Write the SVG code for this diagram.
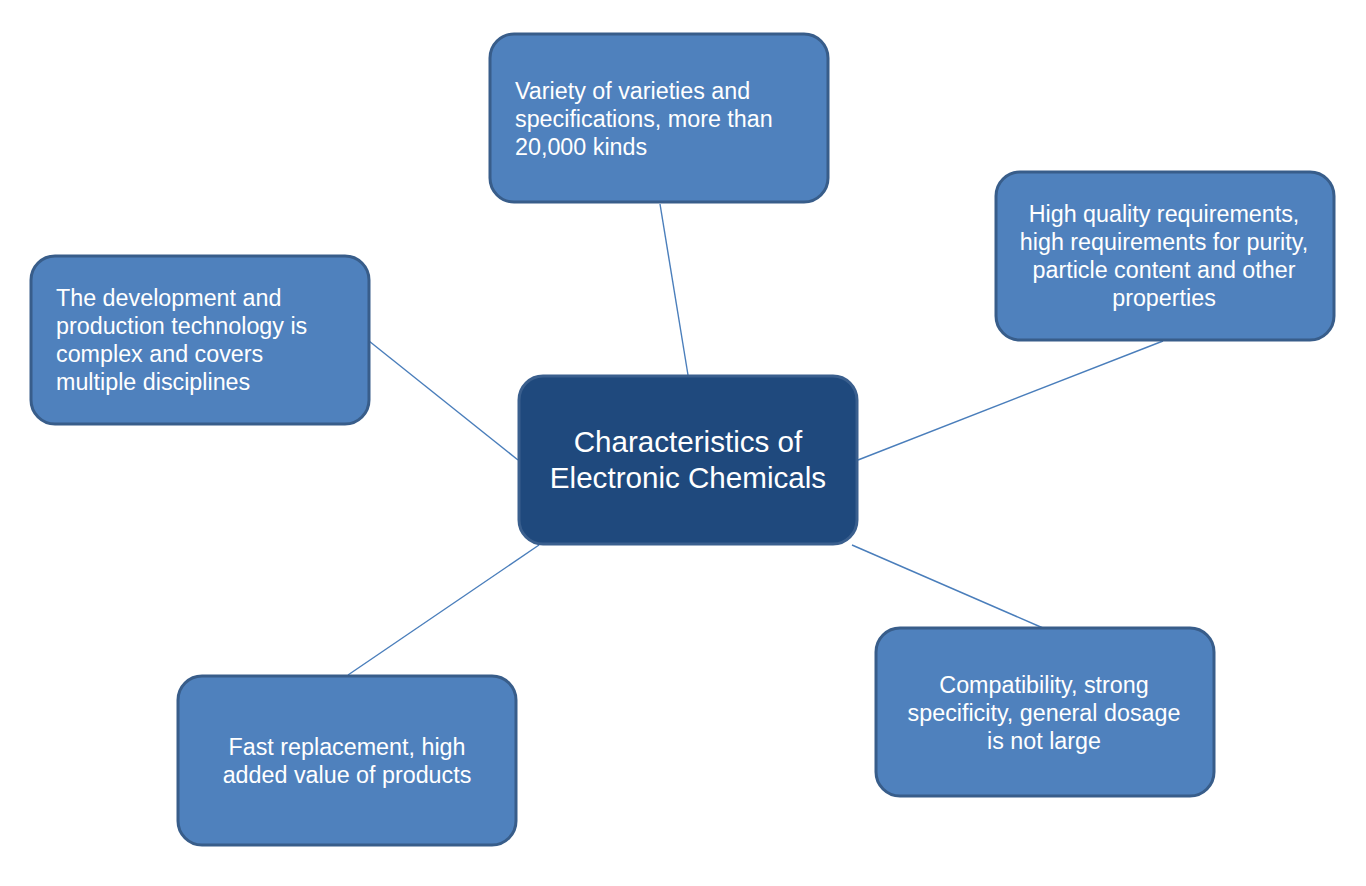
<svg xmlns="http://www.w3.org/2000/svg" width="1366" height="886" viewBox="0 0 1366 886">
<style>
.box{fill:#4f81bd;stroke:#385d8a;stroke-width:3}
.hub{fill:#1f497d;stroke:#3a5f8e;stroke-width:3}
.t{font-family:"Liberation Sans",Arial,sans-serif;font-size:23.3px;fill:#ffffff}
.c{text-anchor:middle}
.ht{font-family:"Liberation Sans",Arial,sans-serif;font-size:29.6px;fill:#ffffff;text-anchor:middle}
.ln{stroke:#4a7ebb;stroke-width:1.4;fill:none}
</style>
<rect width="1366" height="886" fill="#ffffff"/>
<g id="connectors">
<line class="ln" x1="660" y1="204" x2="688" y2="375"/>
<line class="ln" x1="858" y1="460" x2="1163" y2="341"/>
<line class="ln" x1="369" y1="341" x2="518" y2="460"/>
<line class="ln" x1="539" y1="545" x2="348" y2="675"/>
<line class="ln" x1="852" y1="545" x2="1043" y2="628"/>
</g>
<g id="hub">
<rect class="hub" x="519" y="376" width="338" height="168" rx="24"/>
<text class="ht" x="688" y="452">Characteristics of</text>
<text class="ht" x="688" y="488">Electronic Chemicals</text>
</g>
<g id="node-top">
<rect class="box" x="490" y="34" width="338" height="168" rx="24"/>
<text class="t" x="515" y="99">Variety of varieties and</text>
<text class="t" x="515" y="127">specifications, more than</text>
<text class="t" x="515" y="155">20,000 kinds</text>
</g>
<g id="node-right">
<rect class="box" x="996" y="172" width="338" height="168" rx="24"/>
<text class="t c" x="1164" y="222">High quality requirements,</text>
<text class="t c" x="1164" y="250">high requirements for purity,</text>
<text class="t c" x="1164" y="278">particle content and other</text>
<text class="t c" x="1164" y="306">properties</text>
</g>
<g id="node-left">
<rect class="box" x="31" y="256" width="338" height="168" rx="24"/>
<text class="t" x="56" y="306">The development and</text>
<text class="t" x="56" y="334">production technology is</text>
<text class="t" x="56" y="362">complex and covers</text>
<text class="t" x="56" y="390">multiple disciplines</text>
</g>
<g id="node-bottom-right">
<rect class="box" x="876" y="628" width="338" height="168" rx="24"/>
<text class="t c" x="1044" y="693">Compatibility, strong</text>
<text class="t c" x="1044" y="721">specificity, general dosage</text>
<text class="t c" x="1044" y="749">is not large</text>
</g>
<g id="node-bottom-left">
<rect class="box" x="178" y="676" width="338" height="169" rx="24"/>
<text class="t c" x="347" y="755">Fast replacement, high</text>
<text class="t c" x="347" y="783">added value of products</text>
</g>
</svg>
